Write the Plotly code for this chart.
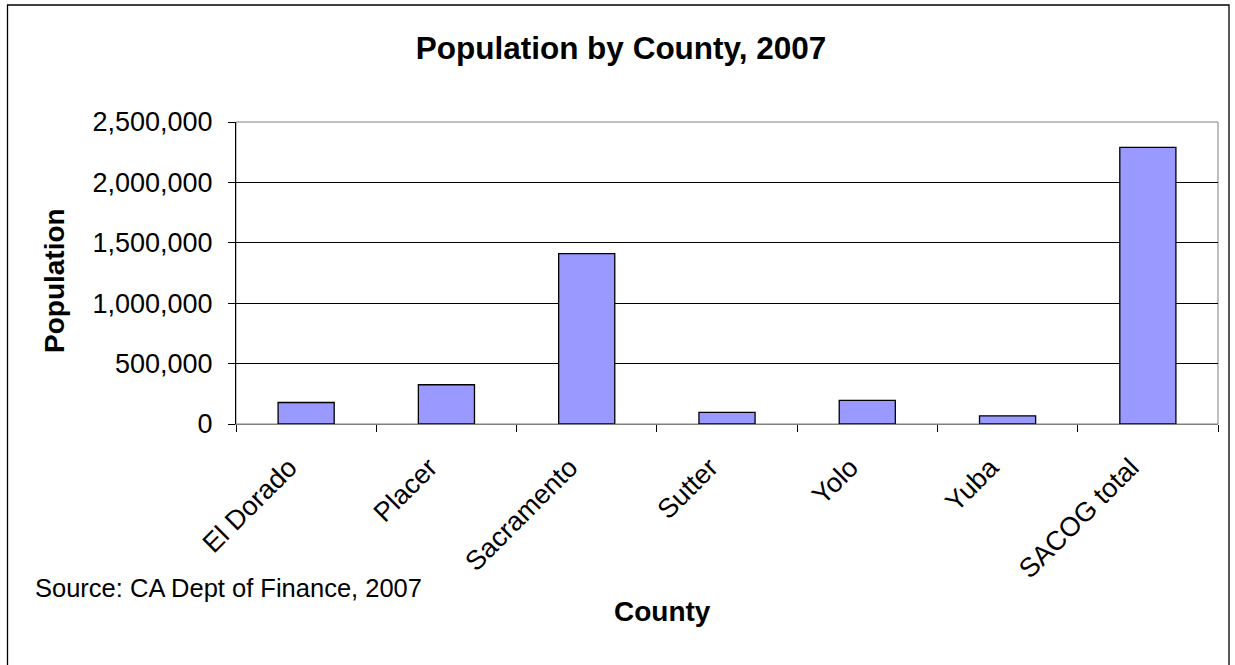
import plotly.graph_objects as go

counties = ["El Dorado", "Placer", "Sacramento", "Sutter", "Yolo", "Yuba", "SACOG total"]
population = [178000, 325000, 1410000, 96000, 195000, 68000, 2290000]
y_tick_values = [0, 500000, 1000000, 1500000, 2000000, 2500000]
y_tick_labels = ["0", "500,000", "1,000,000", "1,500,000", "2,000,000", "2,500,000"]

W, H = 1235, 665
L, R, T, B = 236, 1218, 122, 424
pw, ph = R - L, B - T

def px_x(px):
    return (px - L) / pw

def px_y(py):
    return (B - py) / ph

FONT = "Liberation Sans, Arial, sans-serif"

fig = go.Figure()
fig.add_trace(go.Bar(
    x=counties, y=population, width=0.4,
    marker=dict(color="#9999FF", line=dict(color="black", width=1.3)),
    hoverinfo="x+y",
))

fig.update_layout(
    width=W, height=H,
    margin=dict(l=L, r=W - R, t=T, b=H - B, autoexpand=False),
    paper_bgcolor="white", plot_bgcolor="white",
    showlegend=False,
    font=dict(family=FONT, color="black"),
    title=dict(text="<b>Population by County, 2007</b>", xref="container", x=621 / W,
               yref="container", y=1 - 47.5 / H, xanchor="center", yanchor="middle",
               font=dict(size=31.5, family=FONT, color="black")),
    bargap=0.6,
)

fig.update_xaxes(
    type="category", showgrid=False, showline=True, linecolor="#808080", linewidth=1,
    ticks="outside", tickson="boundaries", ticklen=7, tickcolor="black", tickwidth=1,
    tickangle=-45, tickfont=dict(size=27, family=FONT, color="black"),
    ticklabelstandoff=16, ticklabelshift=-17,
    automargin=False, range=[-0.5, 6.5],
)
fig.update_yaxes(
    range=[0, 2500000], tickvals=y_tick_values, ticktext=y_tick_labels,
    showgrid=True, gridcolor="black", gridwidth=1, zeroline=False,
    showline=True, linecolor="black", linewidth=1,
    ticks="outside", ticklen=7, tickcolor="black", tickwidth=1,
    ticklabelstandoff=10,
    tickfont=dict(size=27, family=FONT, color="black"), automargin=False,
)

shapes = [
    dict(type="rect", xref="paper", yref="paper", x0=0, x1=1, y0=0, y1=1,
         line=dict(color="#808080", width=1), layer="below"),
    dict(type="rect", xref="paper", yref="paper",
         x0=px_x(7.5), x1=px_x(1229), y0=px_y(668), y1=px_y(5),
         line=dict(color="black", width=1.3)),
]
fig.update_layout(shapes=shapes)

annotations = [
    dict(text="Source: CA Dept of Finance, 2007", xref="paper", yref="paper",
         x=px_x(33), y=px_y(588), xanchor="left", yanchor="middle", showarrow=False,
         font=dict(size=25.5, family=FONT, color="black")),
    dict(text="<b>County</b>", xref="paper", yref="paper",
         x=px_x(662), y=px_y(611), xanchor="center", yanchor="middle", showarrow=False,
         font=dict(size=28, family=FONT, color="black")),
    dict(text="<b>Population</b>", xref="paper", yref="paper", textangle=-90,
         x=px_x(54), y=px_y(281), xanchor="center", yanchor="middle", showarrow=False,
         font=dict(size=28, family=FONT, color="black")),
]
fig.update_layout(annotations=annotations)

fig.write_html("out.html", config={"displayModeBar": False},
               post_script="document.body.style.margin='0';document.body.style.overflow='hidden';")
